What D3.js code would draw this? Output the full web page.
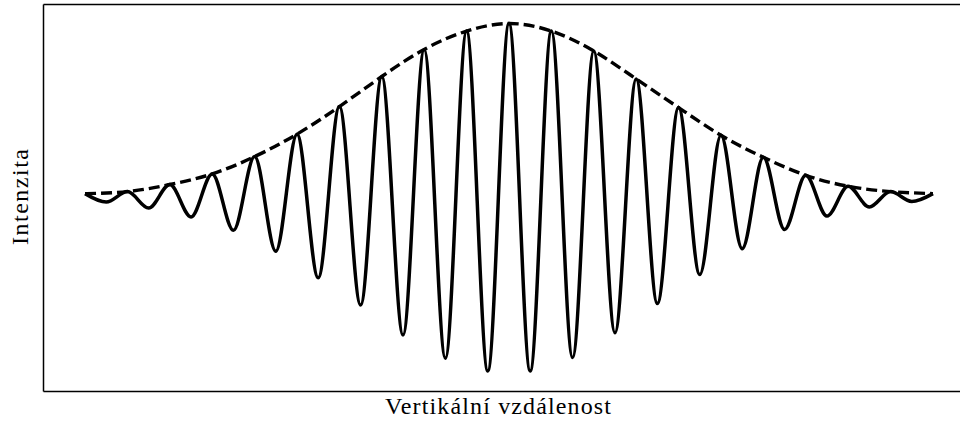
<!DOCTYPE html>
<html>
<head>
<meta charset="utf-8">
<script src="https://cdn.jsdelivr.net/npm/d3@7"></script>
</head>
<body style="margin:0">
<svg id="chart" width="960" height="424" style="display:block;background:#fff"></svg>
<script>
// Interference pattern: oscillating intensity under a Gaussian envelope.
// Maxima sit at whole-number positions, minima halfway between them.
const peakX = [-10, -9, -8, -7, -6, -5, -4, -3, -2, -1, 0, 1, 2, 3, 4, 5, 6, 7, 8, 9, 10];
const peakVal = [0.008, 0.02, 0.061, 0.123, 0.224, 0.355, 0.516, 0.691, 0.849, 0.956, 1.0,
                 0.956, 0.840, 0.677, 0.510, 0.348, 0.220, 0.115, 0.051, 0.02, 0.008];
const troughX = [-9.5, -8.5, -7.5, -6.5, -5.5, -4.5, -3.5, -2.5, -1.5, -0.5,
                 0.5, 1.5, 2.5, 3.5, 4.5, 5.5, 6.5, 7.5, 8.5, 9.5];
const troughVal = [-0.041, -0.076, -0.128, -0.206, -0.328, -0.483, -0.642, -0.817, -0.952, -1.026,
                   -1.026, -0.948, -0.803, -0.633, -0.464, -0.313, -0.201, -0.123, -0.070, -0.038];

const xLabel = "Vertikální vzdálenost";
const yLabel = "Intenzita";

// Layout
const plot = { left: 43.5, right: 966, top: 4.5, bottom: 391.5 };

const x = d3.scaleLinear().domain([-10.98, 10.78]).range([plot.left, plot.right]);
const y = d3.scaleLinear().domain([-1.146, 1.111]).range([plot.bottom, plot.top]);

const svg = d3.select("#chart");

// Intensity curve: maxima and minima merged in order along the axis
const wave = peakX.map((px, i) => ({ x: px, v: peakVal[i] }))
  .concat(troughX.map((tx, i) => ({ x: tx, v: troughVal[i] })))
  .sort((a, b) => a.x - b.x);

const envelope = peakX.map((px, i) => ({ x: px, v: peakVal[i] }));

const waveLine = d3.line()
  .x(d => x(d.x))
  .y(d => y(d.v))
  .curve(d3.curveMonotoneX);

const envLine = d3.line()
  .x(d => x(d.x))
  .y(d => y(d.v))
  .curve(d3.curveNatural);

svg.append("path")
  .datum(wave)
  .attr("d", waveLine)
  .attr("fill", "none")
  .attr("stroke", "#000")
  .attr("stroke-width", 3.5)
  .attr("stroke-linejoin", "round");

svg.append("path")
  .datum(envelope)
  .attr("d", envLine)
  .attr("fill", "none")
  .attr("stroke", "#000")
  .attr("stroke-width", 3.4)
  .attr("stroke-dasharray", "11,5");

// Axes frame (left, top and bottom spines)
const frame = svg.append("g")
  .attr("fill", "none")
  .attr("stroke", "#000")
  .attr("stroke-width", 1.5);
frame.append("line").attr("x1", plot.left).attr("x2", plot.left).attr("y1", plot.top).attr("y2", plot.bottom);
frame.append("line").attr("x1", plot.left).attr("x2", plot.right).attr("y1", plot.top).attr("y2", plot.top);
frame.append("line").attr("x1", plot.left).attr("x2", plot.right).attr("y1", plot.bottom).attr("y2", plot.bottom);

// Axis titles
svg.append("text")
  .attr("x", 498)
  .attr("y", 413.5)
  .attr("text-anchor", "middle")
  .attr("textLength", 226)
  .style("font-family", '"Liberation Serif"')
  .style("font-size", "24px")
  .text(xLabel);

svg.append("text")
  .attr("transform", "translate(27.5,197) rotate(-90)")
  .attr("text-anchor", "middle")
  .attr("textLength", 96)
  .style("font-family", '"Liberation Serif"')
  .style("font-size", "24px")
  .text(yLabel);
</script>
</body>
</html>
